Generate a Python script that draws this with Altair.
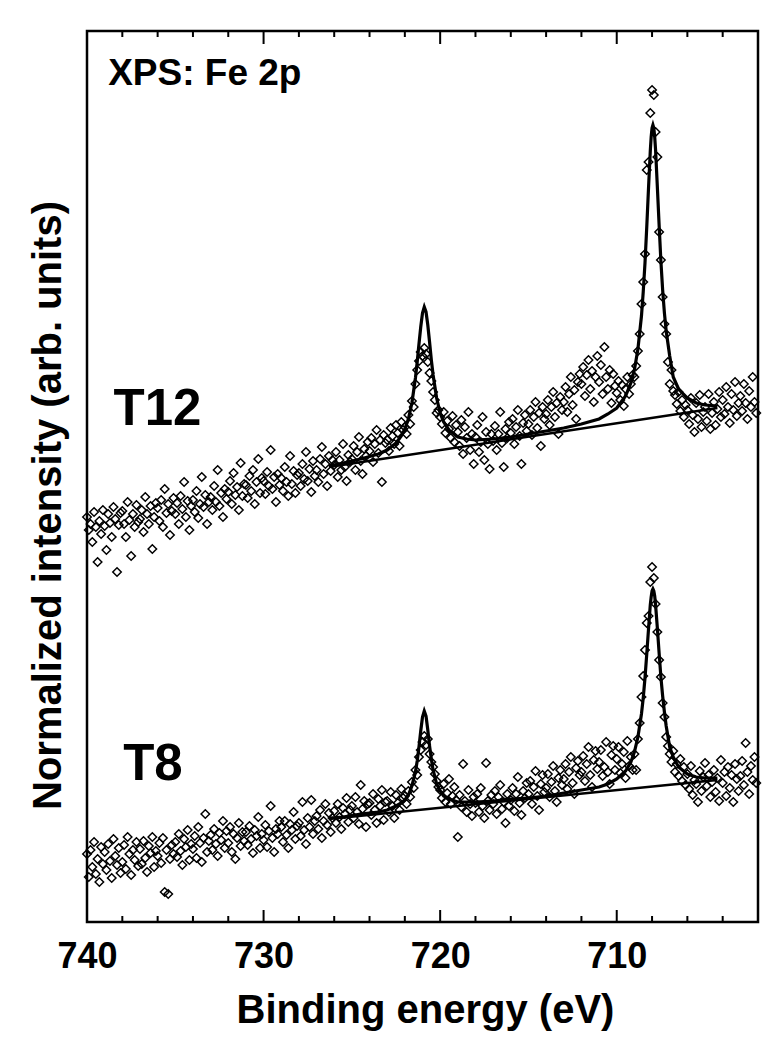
import altair as alt
import pandas as pd

FONT = "Liberation Sans"

# ---- spectrum grid (binding energy, eV) ----
E_START = 740.0
E_STEP = 0.1

# ---- measured points (arbitrary units), one row of 10 per eV ----
t12_counts = [
    405, 392, 398, 380, 410, 395, 360, 401, 388, 412,
    396, 372, 408, 399, 385, 415, 403, 350, 397, 409,
    411, 398, 385, 420, 402, 366, 408, 395, 417, 400,
    403, 412, 390, 425, 408, 398, 416, 373, 405, 419,
    414, 401, 422, 395, 433, 409, 418, 387, 411, 424,
    408, 419, 398, 426, 413, 440, 405, 421, 392, 416,
    422, 410, 431, 404, 418, 445, 415, 427, 398, 420,
    425, 412, 436, 420, 452, 416, 429, 405, 433, 423,
    430, 441, 418, 449, 427, 435, 412, 459, 426, 438,
    437, 424, 446, 431, 452, 418, 440, 463, 429, 444,
    441, 428, 450, 436, 472, 433, 445, 420, 448, 437,
    444, 431, 455, 440, 426, 466, 438, 451, 429, 447,
    449, 436, 458, 443, 470, 441, 453, 430, 461, 446,
    452, 440, 463, 475, 448, 458, 436, 466, 451, 462,
    457, 470, 445, 462, 452, 478, 455, 441, 467, 460,
    463, 476, 452, 470, 485, 461, 448, 473, 466, 480,
    471, 484, 460, 478, 492, 469, 482, 440, 487, 479,
    482, 471, 494, 486, 478, 497, 489, 476, 500, 492,
    495, 488, 507, 498, 521, 515, 538, 552, 561, 570,
    566, 574, 568, 560, 549, 541, 530, 522, 509, 512,
    505, 498, 510, 489, 501, 493, 484, 506, 480, 497,
    490, 476, 502, 468, 495, 484, 510, 472, 488, 458,
    485, 497, 470, 480, 505, 462, 490, 478, 453, 488,
    481, 496, 472, 488, 510, 479, 455, 493, 484, 500,
    489, 503, 478, 495, 512, 486, 458, 499, 507, 491,
    498, 512, 487, 505, 520, 494, 509, 476, 515, 503,
    508, 522, 497, 515, 530, 505, 519, 488, 525, 512,
    520, 535, 510, 528, 545, 517, 532, 503, 540, 548,
    538, 555, 526, 547, 562, 533, 551, 520, 545, 566,
    540, 557, 528, 575, 545, 533, 552, 519, 548, 536,
    529, 541, 522, 537, 516, 533, 545, 528, 538, 547,
    545, 556, 571, 588, 618, 640, 668, 752, 760, 809,
    832, 827, 790, 765, 690, 662, 625, 598, 588, 560,
    538, 552, 531, 527, 518, 530, 511, 522, 505, 517,
    512, 498, 524, 507, 490, 519, 503, 527, 495, 510,
    515, 501, 528, 493, 509, 520, 497, 513, 530, 505,
    522, 508, 535, 515, 499, 528, 512, 540, 506, 519,
    526, 511, 538, 519, 503, 531, 515, 545, 520, 509,
]

t8_counts = [
    68, 45, 72, 55, 80, 48, 63, 40, 75, 58,
    70, 52, 78, 61, 44, 83, 66, 57, 74, 49,
    60, 77, 53, 85, 68, 47, 72, 62, 80, 56,
    73, 58, 81, 64, 50, 76, 69, 85, 55, 71,
    66, 79, 59, 84, 30, 72, 28, 63, 77, 68,
    80, 65, 88, 71, 57, 83, 75, 92, 62, 78,
    73, 86, 64, 95, 79, 60, 84, 108, 70, 81,
    87, 72, 93, 78, 66, 89, 82, 101, 74, 91,
    79, 95, 70, 88, 63, 84, 99, 76, 90, 81,
    90, 77, 96, 83, 69, 92, 86, 105, 74, 88,
    82, 97, 75, 91, 116, 84, 70, 93, 88, 101,
    95, 80, 101, 87, 74, 98, 92, 110, 83, 96,
    99, 86, 120, 92, 78, 104, 95, 122, 88, 101,
    106, 93, 112, 84, 101, 118, 97, 109, 90, 104,
    111, 99, 118, 105, 93, 114, 108, 124, 100, 112,
    116, 104, 125, 110, 98, 137, 113, 121, 95, 118,
    119, 107, 128, 112, 99, 123, 116, 132, 102, 120,
    121, 110, 130, 116, 104, 127, 119, 112, 133, 124,
    126, 118, 131, 125, 140, 134, 152, 147, 165, 172,
    180, 186, 177, 183, 168, 160, 155, 148, 141, 135,
    132, 124, 138, 120, 129, 143, 118, 126, 135, 122,
    85, 127, 115, 158, 121, 110, 132, 118, 106, 125,
    119, 128, 110, 134, 116, 104, 159, 121, 112, 127,
    118, 131, 108, 125, 137, 113, 120, 99, 128, 116,
    122, 134, 111, 128, 145, 119, 107, 131, 124, 139,
    128, 141, 118, 135, 151, 126, 112, 138, 147, 130,
    134, 148, 125, 140, 156, 131, 120, 144, 152, 137,
    143, 158, 133, 150, 165, 139, 128, 154, 161, 147,
    150, 166, 141, 158, 175, 147, 135, 162, 171, 153,
    160, 172, 146, 155, 180, 150, 138, 167, 176, 152,
    163, 175, 149, 158, 170, 144, 181, 156, 165, 152,
    168, 152, 183, 199, 225, 246, 272, 299, 306, 340,
    355, 344, 318, 290, 262, 245, 219, 205, 185, 176,
    168, 160, 171, 150, 158, 146, 163, 141, 155, 137,
    148, 133, 156, 127, 142, 138, 120, 151, 131, 145,
    159, 136, 147, 125, 140, 152, 130, 144, 121, 162,
    139, 150, 126, 155, 134, 147, 120, 158, 143, 131,
    146, 161, 137, 179, 150, 128, 156, 142, 165, 139,
]

# ---- fitted envelopes ----
fit_energy = [726.3, 725.5, 724.5, 723.5, 723.0, 722.5, 722.2, 722.0, 721.8, 721.6,
              721.4, 721.3, 721.2, 721.1, 721.0, 720.9, 720.8, 720.7, 720.6, 720.5,
              720.4, 720.2, 720.0, 719.8, 719.5, 719.0, 718.5, 718.0, 717.0, 716.0,
              715.0, 714.0, 713.0, 712.0, 711.0, 710.5, 710.0, 709.5, 709.2, 709.0,
              708.8, 708.6, 708.5, 708.4, 708.3, 708.2, 708.1, 708.05, 708.0, 707.95,
              707.9, 707.85, 707.8, 707.7, 707.6, 707.5, 707.4, 707.3, 707.2, 707.0,
              706.8, 706.5, 706.0, 705.5, 705.0, 704.3]
t12_fit = [456, 459, 463, 468, 472, 479, 486, 493, 503, 519,
           544, 560, 578, 595, 609, 615, 610, 597, 580, 562,
           547, 524, 509, 500, 492, 485, 483, 482, 483, 485,
           488, 491, 494, 498, 503, 508, 514, 526, 539, 552,
           573, 606, 630, 659, 695, 734, 771, 785, 794, 797,
           794, 785, 772, 735, 697, 661, 632, 609, 591, 566,
           545, 533, 524, 519, 517, 516]
t8_fit = [104, 105, 108, 110, 112, 116, 119, 122, 127, 136,
          150, 161, 175, 191, 205, 211, 206, 192, 176, 163,
          152, 138, 131, 126, 123, 120, 120, 120, 121, 123,
          124, 126, 129, 132, 135, 138, 143, 151, 160, 170,
          185, 208, 224, 244, 268, 293, 317, 325, 331, 333,
          331, 326, 317, 294, 269, 245, 226, 210, 196, 175,
          165, 155, 148, 145, 144, 144]

# ---- linear backgrounds ----
bg_energy = [726.3, 704.3]
t12_bg = [455, 514]
t8_bg = [103, 142]

# ---- axis ticks ----
major_ticks = [740, 730, 720, 710]
minor_ticks = [738, 736, 734, 732, 728, 726, 724, 722, 718, 716, 714, 712, 708, 706, 704]

# ---- annotations ----
panel_text = ["XPS: Fe 2p"]
panel_e = [738.8]
panel_h = [837]
sample_text = ["T12", "T8"]
sample_e = [738.5, 737.95]
sample_h = [497, 142]

energy = [round(E_START - E_STEP * i, 1) for i in range(len(t12_counts))]

scatter_df = pd.concat([
    pd.DataFrame({"e": energy, "h": t12_counts, "sample": "T12"}),
    pd.DataFrame({"e": energy, "h": t8_counts, "sample": "T8"}),
])
fit_df = pd.concat([
    pd.DataFrame({"e": fit_energy, "h": t12_fit, "sample": "T12"}),
    pd.DataFrame({"e": fit_energy, "h": t8_fit, "sample": "T8"}),
])
bg_df = pd.concat([
    pd.DataFrame({"e": bg_energy, "h": t12_bg, "sample": "T12"}),
    pd.DataFrame({"e": bg_energy, "h": t8_bg, "sample": "T8"}),
])
major_df = pd.DataFrame({"e": major_ticks})
minor_df = pd.DataFrame({"e": minor_ticks})
panel_df = pd.DataFrame({"e": panel_e, "h": panel_h, "label": panel_text})
sample_df = pd.DataFrame({"e": sample_e, "h": sample_h, "label": sample_text})

W, H = 671, 891

x_scale = alt.Scale(domain=[740, 702], nice=False, zero=False)
y_scale = alt.Scale(domain=[0, 891], nice=False, zero=False)

x_enc = alt.X(
    "e:Q", scale=x_scale,
    axis=alt.Axis(
        values=major_ticks, format="d", ticks=False, tickSize=0, domain=False, grid=False,
        labelFont=FONT, labelFontSize=36, labelFontWeight="bold", labelColor="black",
        labelPadding=45, labelBaseline="alphabetic", labelFlush=False,
        title="Binding energy (eV)", titleFont=FONT, titleFontSize=40,
        titleFontWeight="bold", titleColor="black", titleX=338, titleY=100,
        titleBaseline="alphabetic", titleAlign="center",
    ),
)
y_enc = alt.Y(
    "h:Q", scale=y_scale,
    axis=alt.Axis(
        labels=False, ticks=False, domain=False, grid=False,
        title="Normalized intensity (arb. units)", titleFont=FONT, titleFontSize=40,
        titleFontWeight="bold", titleColor="black", titleAngle=270,
        titleX=-27, titleY=474, titleBaseline="alphabetic", titleAlign="center",
    ),
)

points = alt.Chart(scatter_df).mark_point(
    shape="diamond", filled=False, size=72, strokeWidth=1.5, color="black", opacity=1
).encode(x=x_enc, y=y_enc, detail="sample:N")

bg_lines = alt.Chart(bg_df).mark_line(color="black", strokeWidth=2.5).encode(
    x=x_enc, y=y_enc, detail="sample:N")

fit_lines = alt.Chart(fit_df).mark_line(color="black", strokeWidth=3.2).encode(
    x=x_enc, y=y_enc, detail="sample:N")

bot_major = alt.Chart(major_df).mark_rule(color="black", strokeWidth=2).encode(
    x=x_enc, y=alt.value(H), y2=alt.value(H - 12))
bot_minor = alt.Chart(minor_df).mark_rule(color="black", strokeWidth=2).encode(
    x=x_enc, y=alt.value(H), y2=alt.value(H - 6))
top_major = alt.Chart(major_df).mark_rule(color="black", strokeWidth=2).encode(
    x=x_enc, y=alt.value(0), y2=alt.value(13))
top_minor = alt.Chart(minor_df).mark_rule(color="black", strokeWidth=2).encode(
    x=x_enc, y=alt.value(0), y2=alt.value(6))

panel_label = alt.Chart(panel_df).mark_text(
    align="left", baseline="alphabetic", font=FONT, fontSize=37, fontWeight="bold",
    color="black").encode(x=x_enc, y=y_enc, text="label:N")
sample_label = alt.Chart(sample_df).mark_text(
    align="left", baseline="alphabetic", font=FONT, fontSize=51, fontWeight="bold",
    color="black").encode(x=x_enc, y=y_enc, text="label:N")

chart = alt.layer(
    points, bg_lines, fit_lines, bot_major, bot_minor, top_major, top_minor,
    panel_label, sample_label,
).properties(
    width=W, height=H,
    padding={"left": 79, "top": 23, "right": 10, "bottom": 115},
    autosize=alt.AutoSizeParams(type="none"),
    background="white",
).configure_view(stroke="black", strokeWidth=2.5)

chart.save("out.html", embed_options={"renderer": "svg", "actions": False})
